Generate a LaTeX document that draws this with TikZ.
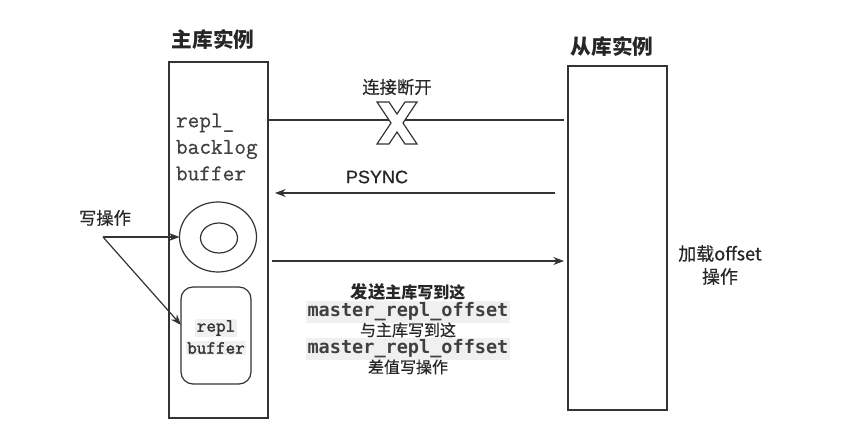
\documentclass[tikz,border=0pt]{standalone}
\usepackage{fontspec}
\setmainfont{Noto Sans CJK SC}
\newfontfamily\medfont{Noto Sans CJK SC}[FakeBold=0.5]
\newfontfamily\latinmed{Liberation Sans}[FakeBold=0.6]
\newfontfamily\sansmono{DejaVu Sans Mono}
\newfontfamily\lmmono{Latin Modern Mono}[FakeBold=0.6]
\newfontfamily\lmmonob{Latin Modern Mono}[FakeBold=1.6]
\usetikzlibrary{arrows.meta,shapes.geometric}
\begin{document}
\begin{tikzpicture}[x=0.75pt,y=-0.75pt,
  line width=0.9pt,
  every node/.style={outer sep=0pt},
  inst/.style={draw=black!80, line width=1pt, anchor=north west, minimum width=74.25pt},
  title/.style={font=\fontsize{15.5}{18}\selectfont\bfseries, text=black!85},
  lbl/.style={font=\medfont\fontsize{13}{16}\selectfont, text=black!85},
  conn/.style={draw=black!80, line width=0.9pt},
  ringst/.style={draw=black!80, line width=0.9pt},
  arr/.style={conn, -{Stealth[length=8pt,width=6pt]}},
  codehl/.style={fill=black!6, inner sep=1pt, text=black!75,
    font=\sansmono\bfseries\fontsize{13.9}{16}\selectfont},
  txt/.style={inner sep=0pt, text=black!85, font=\medfont\fontsize{12}{14}\selectfont}
]
\useasboundingbox (0,0) rectangle (851,445);

% instances
\node[inst, minimum height=267pt] (master) at (169,62) {};
\node[inst, minimum height=258pt] (slave) at (568,66) {};
\node[title] (mtitle) at (213,40) {主库实例};
\node[title] (stitle) at (612,47) {从库实例};

% backlog text
\node[anchor=west, align=left, inner sep=0pt, text=black!75,
  font=\lmmono\fontsize{17}{19.9}\selectfont] (backlog) at (176,147)
  {repl\_\\backlog\\buffer};

% ring buffer
\coordinate (ring) at (218,237);
\draw[ringst] (ring) ellipse [x radius=38.5, y radius=35];
\draw[ringst] (219,238) ellipse [x radius=18.5, y radius=15];
\coordinate (ringwest) at (179.5,237);

% repl buffer
\node[draw=black!80, line width=0.9pt, rounded corners=9pt, minimum width=52.5pt, minimum height=72.75pt] (bufbox) at (216,335.5) {};
\node[codehl, text=black!80, font=\lmmonob\fontsize{14}{16}\selectfont] (rb1) at (216,328) {repl};
\node[codehl, text=black!80, font=\lmmonob\fontsize{14}{16}\selectfont] (rb2) at (216,348) {buffer};

% write op
\node[lbl] (write) at (105,218) {写操作};
\coordinate (wsrc) at (103,237);
\draw[arr] (wsrc) -- (ringwest);
\draw[arr] (wsrc) -- (bufbox.west |- 0,325);

% disconnected link
\coordinate (c1) at (268,120);
\coordinate (c2) at (564,120);
\draw[conn] (c1) -- (c2);
\coordinate (cut) at (397,123);
\draw[draw=black!80, line width=0.9pt, fill=white, line join=miter]
  (cut) ++(-20,-21) -- ++(12,0) -- ++(8,12) -- ++(8,-12) -- ++(12,0)
  -- ++(-14,21) -- ++(14,21) -- ++(-12,0) -- ++(-8,-12) -- ++(-8,12)
  -- ++(-12,0) -- ++(14,-21) -- cycle;
\node[lbl] (cutlbl) at (397,87) {连接断开};

% PSYNC
\coordinate (p1) at (555,193);
\coordinate (p2) at (275,193);
\draw[arr] (p1) -- (p2);
\node[text=black!85, font=\latinmed\fontsize{13.5}{16}\selectfont] (psync) at (377,177) {PSYNC};

% send
\coordinate (s1) at (272,261);
\coordinate (s2) at (564,261);
\draw[arr] (s1) -- (s2);
\node[txt, font=\fontsize{12}{14}\selectfont\bfseries] (l1) at (408,292) {{\fontsize{13}{14}\selectfont 发送}主库写到这};
\node[codehl] (l2) at (408,312) {master\_repl\_offset};
\node[txt] (l3) at (408,330) {与主库写到这};
\node[codehl] (l4) at (408,349) {master\_repl\_offset};
\node[txt] (l5) at (408,367) {差值写操作};

% load offset
\node[lbl, align=center, font=\medfont\fontsize{13.5}{17.2}\selectfont] (load) at (720,265) {加载offset\\操作};
\end{tikzpicture}
\end{document}
